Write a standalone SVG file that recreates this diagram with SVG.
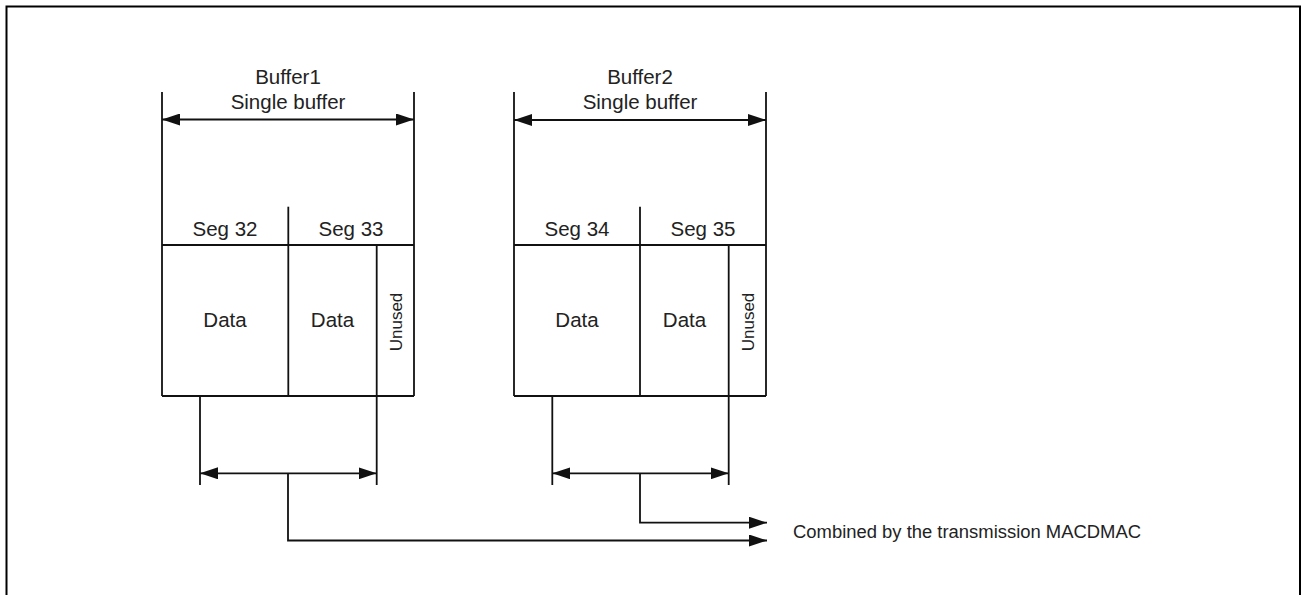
<svg xmlns="http://www.w3.org/2000/svg" width="1301" height="595" viewBox="0 0 1301 595">
<style>
.ln{stroke:#111;stroke-width:1.8;fill:none}
.t{font-family:"Liberation Sans",Arial,sans-serif;fill:#222;text-anchor:middle}
.big{font-size:20.5px}
.un{font-size:17px}
.cap{font-size:17.5px;text-anchor:start}
</style>
<defs>
<marker id="ah" viewBox="0 0 18 12" refX="18" refY="6" markerWidth="18" markerHeight="12" markerUnits="userSpaceOnUse" orient="auto-start-reverse">
<path d="M0,0 L18,6 L0,12 Z" fill="#111"/>
</marker>
</defs>
<rect x="6.5" y="6.5" width="1293.5" height="640" fill="#fff" stroke="#000" stroke-width="2"/>

<g id="buffer1">
<line class="ln" x1="162" y1="92" x2="162" y2="396"/>
<line class="ln" x1="414" y1="92" x2="414" y2="396"/>
<line class="ln" x1="162" y1="119.5" x2="414" y2="119.5" marker-start="url(#ah)" marker-end="url(#ah)"/>
<text class="t big" x="288" y="84">Buffer1</text>
<text class="t big" x="288" y="109">Single buffer</text>
<line class="ln" x1="288.3" y1="206.7" x2="288.3" y2="396"/>
<line class="ln" x1="162" y1="245" x2="414" y2="245"/>
<line class="ln" x1="376.7" y1="245" x2="376.7" y2="396"/>
<line class="ln" x1="162" y1="396" x2="414" y2="396"/>
<text class="t big" x="225" y="236">Seg 32</text>
<text class="t big" x="351" y="236">Seg 33</text>
<text class="t big" x="225" y="327">Data</text>
<text class="t big" x="332.5" y="327">Data</text>
<text class="t un" transform="translate(401.5,322) rotate(-90)">Unused</text>
</g>

<g id="buffer2">
<line class="ln" x1="514" y1="92" x2="514" y2="396"/>
<line class="ln" x1="766" y1="92" x2="766" y2="396"/>
<line class="ln" x1="514" y1="120" x2="766" y2="120" marker-start="url(#ah)" marker-end="url(#ah)"/>
<text class="t big" x="640" y="84">Buffer2</text>
<text class="t big" x="640" y="109">Single buffer</text>
<line class="ln" x1="640" y1="206.7" x2="640" y2="396"/>
<line class="ln" x1="514" y1="245" x2="766" y2="245"/>
<line class="ln" x1="728.7" y1="245" x2="728.7" y2="396"/>
<line class="ln" x1="514" y1="396" x2="766" y2="396"/>
<text class="t big" x="577" y="236">Seg 34</text>
<text class="t big" x="703" y="236">Seg 35</text>
<text class="t big" x="577" y="327">Data</text>
<text class="t big" x="684.5" y="327">Data</text>
<text class="t un" transform="translate(753.5,322) rotate(-90)">Unused</text>
</g>

<g id="connectors">
<line class="ln" x1="200" y1="396" x2="200" y2="485"/>
<line class="ln" x1="376.7" y1="396" x2="376.7" y2="485"/>
<line class="ln" x1="200" y1="473.3" x2="376.7" y2="473.3" marker-start="url(#ah)" marker-end="url(#ah)"/>
<polyline class="ln" points="288,473.3 288,540.5 767,540.5" marker-end="url(#ah)"/>
<line class="ln" x1="552.3" y1="396" x2="552.3" y2="485"/>
<line class="ln" x1="728.7" y1="396" x2="728.7" y2="485"/>
<line class="ln" x1="552.3" y1="473.3" x2="728.7" y2="473.3" marker-start="url(#ah)" marker-end="url(#ah)"/>
<polyline class="ln" points="640,473.3 640,522.7 767,522.7" marker-end="url(#ah)"/>
</g>

<g id="caption">
<text class="t cap" x="793" y="538" textLength="348" lengthAdjust="spacingAndGlyphs">Combined by the transmission MACDMAC</text>
</g>
</svg>
